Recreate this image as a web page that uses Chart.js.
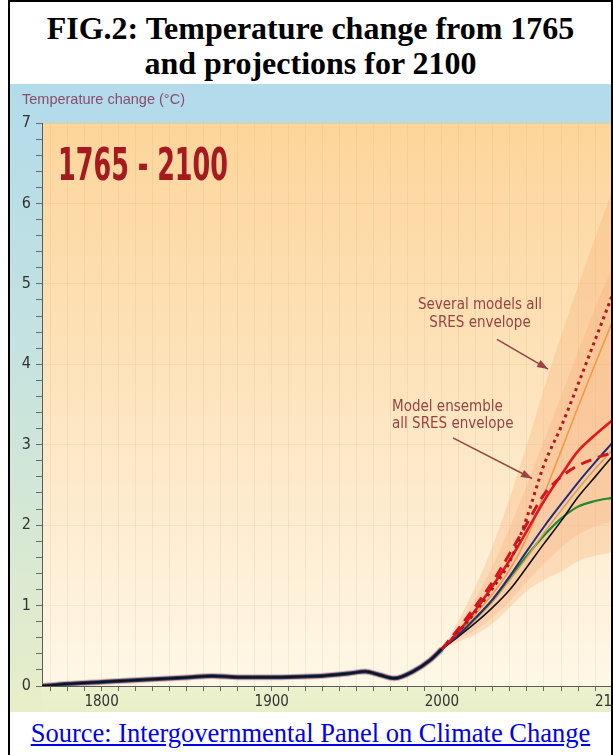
<!DOCTYPE html>
<html>
<head>
<meta charset="utf-8">
<title>FIG.2: Temperature change from 1765 and projections for 2100</title>
<script src="https://cdn.jsdelivr.net/npm/chart.js@4.4.1/dist/chart.umd.min.js"></script>
<style>
  html, body { margin: 0; padding: 0; background: #fff; overflow: hidden; }
  #frame {
    position: absolute; left: 8px; top: 0; width: 605px; height: 760px;
    border: 2px solid #000; border-bottom: none; box-sizing: border-box; background: #fff;
  }
  #title {
    position: absolute; left: 0; top: 9px; width: 601px; text-align: center;
    font-family: "Liberation Serif", "Times New Roman", serif; font-weight: bold;
    font-size: 32px; line-height: 35px; color: #000;
  }
  #plot {
    position: absolute; left: 0; top: 82px; width: 601px; height: 628px; overflow: hidden;
  }
  #plot canvas { display: block; }
  #source {
    position: absolute; left: 0; top: 716px; width: 601px; text-align: center;
    font-family: "Liberation Serif", "Times New Roman", serif; font-size: 26.5px; line-height: 30px;
    color: #0000ee; text-decoration: underline;
  }
</style>
</head>
<body>
<div id="frame">
  <div id="title">FIG.2: Temperature change from 1765<br>and projections for 2100</div>
  <div id="plot"><canvas id="chart" width="640" height="628"></canvas></div>
  <div id="source">Source: Intergovernmental Panel on Climate Change</div>
</div>
<script>
// Observed / reconstructed warming since 1765 (°C)
const HIST_YEARS = [1765, 1775, 1800, 1830, 1850, 1865, 1880, 1905, 1925, 1945, 1955, 1963, 1972, 1983, 1993, 2000];
const HIST_TEMP  = [0, 0.02, 0.05, 0.085, 0.105, 0.125, 0.11, 0.11, 0.12, 0.155, 0.18, 0.14, 0.095, 0.18, 0.32, 0.46];

// Projection years and scenario curves (°C above 1765)
const PROJ_YEARS = [2000, 2010, 2020, 2030, 2040, 2050, 2060, 2070, 2080, 2090, 2100];
const RED_DOTTED = [0.46, 0.68, 0.93, 1.22, 1.55, 2.10, 2.75, 3.22, 3.75, 4.30, 4.85];
const RED_DASHED = [0.46, 0.72, 1.00, 1.30, 1.65, 2.02, 2.38, 2.60, 2.74, 2.83, 2.90];
const RED_SOLID  = [0.46, 0.68, 0.95, 1.25, 1.57, 1.93, 2.30, 2.62, 2.92, 3.12, 3.30];
const ORANGE     = [0.46, 0.66, 0.90, 1.15, 1.45, 1.85, 2.38, 2.92, 3.47, 4.00, 4.52];
const BLUE       = [0.46, 0.64, 0.85, 1.08, 1.37, 1.68, 1.98, 2.26, 2.53, 2.78, 3.02];
const TAN        = [0.46, 0.63, 0.83, 1.05, 1.32, 1.60, 1.90, 2.18, 2.45, 2.70, 2.93];
const BLACK      = [0.46, 0.62, 0.79, 0.98, 1.20, 1.48, 1.77, 2.05, 2.35, 2.60, 2.85];
const GREEN      = [0.46, 0.64, 0.85, 1.08, 1.35, 1.62, 1.87, 2.08, 2.23, 2.30, 2.34];

// Envelopes: several models / all SRES, and model ensemble / all SRES
const SEVERAL_UPPER  = [0.46, 0.82, 1.25, 1.75, 2.35, 3.00, 3.70, 4.35, 4.97, 5.57, 6.15];
const SEVERAL_LOWER  = [0.46, 0.55, 0.64, 0.78, 0.98, 1.18, 1.32, 1.42, 1.55, 1.62, 1.66];
const ENSEMBLE_UPPER = [0.46, 0.75, 1.10, 1.50, 1.98, 2.50, 3.05, 3.60, 4.15, 4.70, 5.20];
const ENSEMBLE_LOWER = [0.46, 0.58, 0.70, 0.86, 1.06, 1.30, 1.52, 1.72, 1.88, 1.98, 2.05];

// Axis labels
const X_LABEL_YEARS = [1800, 1900, 2000, 2100];
const Y_LABELS = [0, 1, 2, 3, 4, 5, 6, 7];
const Y_TITLE = 'Temperature change (°C)';
const PERIOD_LABEL = '1765 - 2100';
const NOTE_SEVERAL = ['Several models all', 'SRES envelope'];
const NOTE_ENSEMBLE = ['Model ensemble', 'all SRES envelope'];

const NARROW = '"Liberation Sans Narrow", "Arial Narrow", "DejaVu Sans Condensed", "Liberation Sans", Arial, sans-serif';
const SANS = '"Liberation Sans", Arial, sans-serif';

const pts = (xs, ys) => xs.map((x, i) => ({ x, y: ys[i] }));

function line(data, color, width, dash, order) {
  return {
    data: pts(PROJ_YEARS, data), borderColor: color, borderWidth: width,
    borderDash: dash || [], fill: false, pointRadius: 0,
    cubicInterpolationMode: 'monotone', order: order
  };
}

const datasets = [
  // outer envelope
  { data: pts(PROJ_YEARS, SEVERAL_UPPER), borderWidth: 0, pointRadius: 0, fill: '+1',
    backgroundColor: 'rgba(248,172,112,0.30)', cubicInterpolationMode: 'monotone', order: 100 },
  { data: pts(PROJ_YEARS, SEVERAL_LOWER), borderWidth: 0, pointRadius: 0, fill: false,
    cubicInterpolationMode: 'monotone', order: 99 },
  // inner envelope
  { data: pts(PROJ_YEARS, ENSEMBLE_UPPER), borderWidth: 0, pointRadius: 0, fill: '+1',
    backgroundColor: 'rgba(244,160,110,0.22)', cubicInterpolationMode: 'monotone', order: 98 },
  { data: pts(PROJ_YEARS, ENSEMBLE_LOWER), borderWidth: 0, pointRadius: 0, fill: false,
    cubicInterpolationMode: 'monotone', order: 97 },
  // historical record, drawn as a layered thick stroke
  { data: pts(HIST_YEARS, HIST_TEMP), borderColor: 'rgba(214,110,110,0.55)', borderWidth: 6,
    pointRadius: 0, fill: false, cubicInterpolationMode: 'monotone', order: 50 },
  { data: pts(HIST_YEARS, HIST_TEMP), borderColor: '#23407c', borderWidth: 4,
    pointRadius: 0, fill: false, cubicInterpolationMode: 'monotone', order: 49 },
  { data: pts(HIST_YEARS, HIST_TEMP), borderColor: '#121212', borderWidth: 2,
    pointRadius: 0, fill: false, cubicInterpolationMode: 'monotone', order: 48 },
  // scenarios
  line(ORANGE, '#f39a4a', 1.6, null, 20),
  line(GREEN, '#1f8a2e', 2.2, null, 19),
  line(TAN, '#c9a457', 1.4, null, 18),
  line(BLACK, '#111111', 1.6, null, 17),
  line(BLUE, '#262c80', 2.0, null, 16),
  line(RED_SOLID, '#e3171e', 2.6, null, 15),
  line(RED_DASHED, '#d3161d', 3.0, [11, 7], 14),
  line(RED_DOTTED, '#b5161b', 3.0, [3, 4], 13)
];

// backgrounds of the framed panel
const panelBackground = {
  id: 'panelBackground',
  beforeDraw(chart) {
    const { ctx, chartArea: a, width, height } = chart;
    ctx.save();
    const side = ctx.createLinearGradient(0, 0, 0, height);
    side.addColorStop(0, '#b2dbeb');
    side.addColorStop(0.45, '#c6e3df');
    side.addColorStop(1, '#e8eec8');
    ctx.fillStyle = side;
    ctx.fillRect(0, 0, width, height);
    ctx.fillStyle = '#b3dbeb';
    ctx.fillRect(a.left, 0, width - a.left, a.top);
    const band = ctx.createLinearGradient(0, a.bottom, 0, height);
    band.addColorStop(0, '#eef1cf');
    band.addColorStop(1, '#e7eec8');
    ctx.fillStyle = band;
    ctx.fillRect(a.left, a.bottom, width - a.left, height - a.bottom);
    const g = ctx.createLinearGradient(0, a.top, 0, a.bottom);
    g.addColorStop(0, '#fdd59b');
    g.addColorStop(0.35, '#fde0b4');
    g.addColorStop(0.7, '#feecd0');
    g.addColorStop(1, '#fef8e7');
    ctx.fillStyle = g;
    ctx.fillRect(a.left, a.top, a.right - a.left, a.bottom - a.top);
    ctx.restore();
  }
};

function arrow(ctx, x1, y1, x2, y2) {
  ctx.beginPath();
  ctx.moveTo(x1, y1);
  ctx.lineTo(x2, y2);
  ctx.stroke();
  const ang = Math.atan2(y2 - y1, x2 - x1), L = 11, W = 4;
  ctx.beginPath();
  ctx.moveTo(x2, y2);
  ctx.lineTo(x2 - L * Math.cos(ang) + W * Math.sin(ang), y2 - L * Math.sin(ang) - W * Math.cos(ang));
  ctx.lineTo(x2 - L * Math.cos(ang) - W * Math.sin(ang), y2 - L * Math.sin(ang) + W * Math.cos(ang));
  ctx.closePath();
  ctx.fill();
}

// axis title, period label and envelope call-outs
const labels = {
  id: 'labels',
  afterDraw(chart) {
    const { ctx, scales: { x, y } } = chart;
    ctx.save();
    ctx.textBaseline = 'middle';
    ctx.fillStyle = '#8a4d6a';
    ctx.font = '14.5px ' + SANS;
    ctx.textAlign = 'left';
    ctx.fillText(Y_TITLE, 12, 16);

    // period label, condensed to its printed width
    ctx.fillStyle = '#a5191f';
    ctx.font = 'bold 45px ' + NARROW;
    const w = ctx.measureText(PERIOD_LABEL).width;
    const px = x.getPixelForValue(1774.4), py = y.getPixelForValue(6.44);
    ctx.save();
    ctx.translate(px, py);
    ctx.scale(170 / w, 1);
    ctx.fillText(PERIOD_LABEL, 0, 0);
    ctx.restore();

    ctx.fillStyle = '#974443';
    ctx.strokeStyle = '#974443';
    ctx.lineWidth = 1.5;
    ctx.font = '15px ' + NARROW;
    ctx.textAlign = 'center';
    ctx.fillText(NOTE_SEVERAL[0], x.getPixelForValue(2022.4), y.getPixelForValue(4.73));
    ctx.fillText(NOTE_SEVERAL[1], x.getPixelForValue(2022.4), y.getPixelForValue(4.51));
    arrow(ctx, x.getPixelForValue(2032.4), y.getPixelForValue(4.31),
               x.getPixelForValue(2062.4), y.getPixelForValue(3.94));
    ctx.textAlign = 'left';
    ctx.fillText(NOTE_ENSEMBLE[0], x.getPixelForValue(1970.7), y.getPixelForValue(3.47));
    ctx.fillText(NOTE_ENSEMBLE[1], x.getPixelForValue(1970.7), y.getPixelForValue(3.26));
    arrow(ctx, x.getPixelForValue(2006.5), y.getPixelForValue(3.085),
               x.getPixelForValue(2053), y.getPixelForValue(2.58));
    ctx.restore();
  }
};

const gridTint = 'rgba(196,160,112,0.15)';

new Chart(document.getElementById('chart'), {
  type: 'line',
  data: { datasets },
  plugins: [panelBackground, labels],
  options: {
    responsive: false,
    animation: false,
    layout: { padding: { top: 39, left: 0, right: 0, bottom: 0 } },
    plugins: { legend: { display: false }, tooltip: { enabled: false } },
    scales: {
      x: {
        type: 'linear', min: 1765, max: 2122.3,
        afterBuildTicks(scale) {
          const t = [];
          for (let v = 1770; v <= 2120; v += 10) t.push({ value: v });
          scale.ticks = t;
        },
        afterFit(scale) { scale.height = 26; },
        ticks: {
          autoSkip: false, maxRotation: 0, minRotation: 0, padding: 2,
          color: '#333', font: { family: NARROW, size: 15 },
          callback: v => X_LABEL_YEARS.includes(v) ? String(v) : ''
        },
        grid: { color: gridTint, tickColor: '#6a6a6a', tickLength: 5, lineWidth: 1 },
        border: { color: '#5a5a5a', width: 1 }
      },
      y: {
        type: 'linear', min: 0, max: 7,
        afterBuildTicks(scale) {
          const t = [];
          for (let i = 0; i <= 35; i++) t.push({ value: Math.round(i * 2) / 10 });
          scale.ticks = t;
        },
        afterFit(scale) { scale.width = 32; },
        ticks: {
          autoSkip: false, padding: 5, color: '#333', font: { family: NARROW, size: 16 },
          callback: v => Y_LABELS.includes(v) ? String(v) : ''
        },
        grid: {
          color: c => (c.tick && Y_LABELS.includes(c.tick.value) && c.tick.value > 0) ? gridTint : 'rgba(0,0,0,0)',
          tickColor: '#6a6a6a', tickLength: 6, lineWidth: 1
        },
        border: { color: '#5a5a5a', width: 1 }
      }
    }
  }
});
</script>
</body>
</html>
